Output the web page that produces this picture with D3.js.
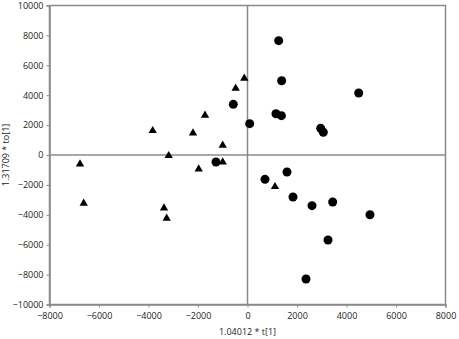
<!DOCTYPE html>
<html>
<head>
<meta charset="utf-8">
<script src="https://cdn.jsdelivr.net/npm/d3@7"></script>
<style>
  body { margin: 0; background: #fff; }
  svg text { font-family: "Open Sans", sans-serif; font-size: 9px; fill: #222; }
</style>
</head>
<body>
<svg id="chart" width="459" height="339"></svg>
<script>
// circle group (t[1], to[1])
const circleX = [1260, 1380, -574, 1150, 1370, 88, 2957, 3063, 4493, -1273, 707, 1596, 1838, 2606, 2364, 3442, 4949, 3253];
const circleY = [7650, 4970, 3390, 2760, 2630, 2095, 1785, 1518, 4147, -468, -1627, -1137, -2809, -3390, -8294, -3144, -3993, -5686];

// triangle group
const triX = [-3830, -6768, -6618, -129, -478, -1717, -2202, -1002, -3184, -1002, -1972, 1111, -3374, -3266];
const triY = [1625, -602, -3231, 5130, 4460, 2655, 1472, 649, -47, -468, -936, -2120, -3545, -4236];

const xTicks = [-8000, -6000, -4000, -2000, 0, 2000, 4000, 6000, 8000];
const yTicks = [-10000, -8000, -6000, -4000, -2000, 0, 2000, 4000, 6000, 8000, 10000];

const xTitle = "1.04012 * t[1]";
const yTitle = "1.31709 * to[1]";

const svg = d3.select("#chart");
const plotL = 49.5, plotR = 445.5, plotT = 5.5, plotB = 304.5;

const x = d3.scaleLinear().domain([-8000, 8000]).range([plotL, plotR]);
const y = d3.scaleLinear().domain([-10000, 10000]).range([plotB, plotT]);

const axisColor = "#8a8a8a";

// frame
svg.append("rect")
    .attr("x", plotL).attr("y", plotT)
    .attr("width", plotR - plotL).attr("height", plotB - plotT)
    .attr("fill", "none").attr("stroke", axisColor).attr("stroke-width", 1.5);

// zero lines
svg.append("line")
    .attr("x1", plotL).attr("x2", plotR)
    .attr("y1", y(0)).attr("y2", y(0))
    .attr("stroke", axisColor).attr("stroke-width", 1.5);
svg.append("line")
    .attr("x1", x(0)).attr("x2", x(0))
    .attr("y1", plotT).attr("y2", plotB)
    .attr("stroke", axisColor).attr("stroke-width", 1.5);

const xAxis = svg.append("g")
    .attr("transform", "translate(0," + plotB + ")")
    .call(d3.axisBottom(x).tickValues(xTicks).tickSize(3).tickPadding(5).tickFormat(d3.format("d")));
const yAxis = svg.append("g")
    .attr("transform", "translate(" + plotL + ",0)")
    .call(d3.axisLeft(y).tickValues(yTicks).tickSize(3).tickPadding(3).tickFormat(d3.format("d")));

[xAxis, yAxis].forEach(g => {
    g.select(".domain").attr("stroke", axisColor).attr("stroke-width", 1.5);
    g.selectAll(".tick line").attr("stroke", axisColor);
    g.selectAll(".tick text").attr("fill", "#222")
        .style("font-family", "'Open Sans', sans-serif").style("font-size", "9px");
});

svg.append("text")
    .attr("x", x(0)).attr("y", 335)
    .attr("text-anchor", "middle")
    .text(xTitle);

svg.append("text")
    .attr("transform", "translate(9," + y(0) + ") rotate(-90)")
    .attr("text-anchor", "middle")
    .text(yTitle);

// points
svg.append("g").selectAll("circle")
    .data(circleX.map((v, i) => [v, circleY[i]]))
    .enter().append("circle")
    .attr("cx", d => x(d[0]))
    .attr("cy", d => y(d[1]))
    .attr("r", 4.5)
    .attr("fill", "#000");

const tri = d3.symbol(d3.symbolTriangle, 30);
svg.append("g").selectAll("path")
    .data(triX.map((v, i) => [v, triY[i]]))
    .enter().append("path")
    .attr("d", tri)
    .attr("transform", d => "translate(" + x(d[0]) + "," + y(d[1]) + ")")
    .attr("fill", "#000");
</script>
</body>
</html>
